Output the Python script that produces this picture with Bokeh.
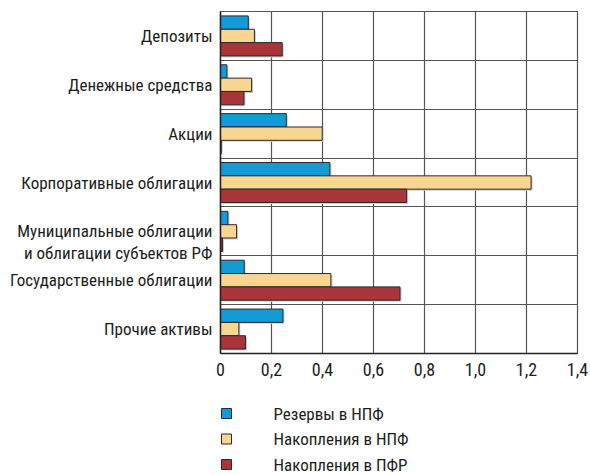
from bokeh.plotting import figure
from bokeh.layouts import column
from bokeh.models import ColumnDataSource, Range1d, FixedTicker
from bokeh.core.properties import value
from bokeh.transform import dodge
from bokeh.embed import file_html
from bokeh.resources import INLINE

categories = ["Депозиты", "Денежные средства", "Акции", "Корпоративные облигации",
              "\nМуниципальные облигации\nи облигации субъектов РФ",
              "Государственные облигации", "Прочие активы"]
reserves_npf = [0.109, 0.025, 0.258, 0.429, 0.029, 0.093, 0.245]
savings_npf = [0.133, 0.122, 0.399, 1.218, 0.063, 0.433, 0.072]
savings_pfr = [0.242, 0.092, 0.003, 0.730, 0.008, 0.704, 0.098]
series_names = ["Резервы в НПФ", "Накопления в НПФ", "Накопления в ПФР"]
series_colors = ["#129bd6", "#f9d592", "#a9353a"]
x_ticks = [0, 0.2, 0.4, 0.6, 0.8, 1.0, 1.2, 1.4]
x_tick_labels = ["0", "0,2", "0,4", "0,6", "0,8", "1,0", "1,2", "1,4"]

FONT = "Roboto Condensed"
FSIZE = "17px"
TXT = "#1d1d1b"
OUTLINE = "#2a2a2a"
GRID = "#555555"
SHADOW = "#cfcfcf"

n = len(categories)
pos = list(range(n))
SH_X, SH_Y = 0.006, 0.03  # drop-shadow offset in data units
src = ColumnDataSource(dict(pos=pos, r=reserves_npf, s=savings_npf, p=savings_pfr,
                            r_sh=[v + SH_X for v in reserves_npf],
                            s_sh=[v + SH_X for v in savings_npf],
                            p_sh=[v + SH_X for v in savings_pfr]))

W, H_MAIN, H_LEG = 590, 392, 83
FRAME_L, FRAME_R = 220, 577

p = figure(width=W, height=H_MAIN, output_backend="svg", toolbar_location=None,
           x_range=Range1d(0, 1.4), y_range=Range1d(n - 0.5, -0.5),
           min_border_left=FRAME_L, min_border_right=W - FRAME_R, min_border_top=11,
           min_border_bottom=39)
p.background_fill_color = "white"
p.outline_line_color = GRID
p.outline_line_width = 1.2

bar_h = 0.273
offsets = [-bar_h, 0, bar_h]
for col, off in zip(["r_sh", "s_sh", "p_sh"], offsets):
    p.hbar(y=dodge("pos", off + SH_Y), right=col, left=SH_X, height=bar_h, source=src,
           fill_color=SHADOW, line_color=None)
for col, off, color in zip(["r", "s", "p"], offsets, series_colors):
    p.hbar(y=dodge("pos", off), right=col, left=0, height=bar_h, source=src,
           fill_color=color, line_color=OUTLINE, line_width=1)

# x axis and vertical grid
p.xaxis.ticker = FixedTicker(ticks=x_ticks)
p.xaxis.major_label_overrides = {t: l for t, l in zip(x_ticks, x_tick_labels)}
p.xgrid.ticker = FixedTicker(ticks=x_ticks)
p.xgrid.grid_line_color = GRID
p.xgrid.grid_line_width = 1.2

# y axis with category labels, horizontal grid at category boundaries
p.yaxis.ticker = FixedTicker(ticks=pos)
p.yaxis.major_label_overrides = {i: c for i, c in zip(pos, categories)}
bounds = [i - 0.5 for i in range(n + 1)]
p.ygrid.ticker = FixedTicker(ticks=bounds)
p.ygrid.grid_line_color = GRID
p.ygrid.grid_line_width = 1.2

for ax in (p.xaxis[0], p.yaxis[0]):
    ax.axis_line_color = "#222222"
    ax.axis_line_width = 1.5
    ax.major_tick_line_color = None
    ax.minor_tick_line_color = None
    ax.major_tick_out = 0
    ax.major_tick_in = 0
    ax.major_label_text_font = FONT
    ax.major_label_text_font_size = FSIZE
    ax.major_label_text_color = TXT
p.xaxis.major_label_text_font_size = "18px"
p.xaxis.major_label_standoff = 9
p.yaxis.major_label_standoff = 8
p.yaxis.major_label_text_line_height = 1.1

# legend strip below the chart; its frame is aligned with the chart frame,
# so its x range is expressed in page pixels over that frame
p2 = figure(width=W, height=H_LEG, output_backend="svg", toolbar_location=None,
            x_range=Range1d(FRAME_L, FRAME_R), y_range=Range1d(H_LEG, 0),
            min_border_left=0, min_border_right=0, min_border_top=0, min_border_bottom=0)
p2.axis.visible = False
p2.grid.visible = False
p2.outline_line_color = None
k = len(series_names)
leg_y = [21 + 25.5 * i for i in range(k)]
leg_src = ColumnDataSource(dict(y=leg_y, color=series_colors, name=series_names,
                                x=[226] * k, tx=[273] * k))
p2.rect(x="x", y="y", width=10, height=10, source=leg_src,
        fill_color="color", line_color=OUTLINE, line_width=1)
p2.text(x="tx", y="y", text="name", source=leg_src, text_font=value(FONT),
        text_font_size=FSIZE, text_color=TXT, text_baseline="middle", text_align="left")

layout = column(p, p2, spacing=0)
open("out.html", "w").write(file_html(layout, INLINE))
